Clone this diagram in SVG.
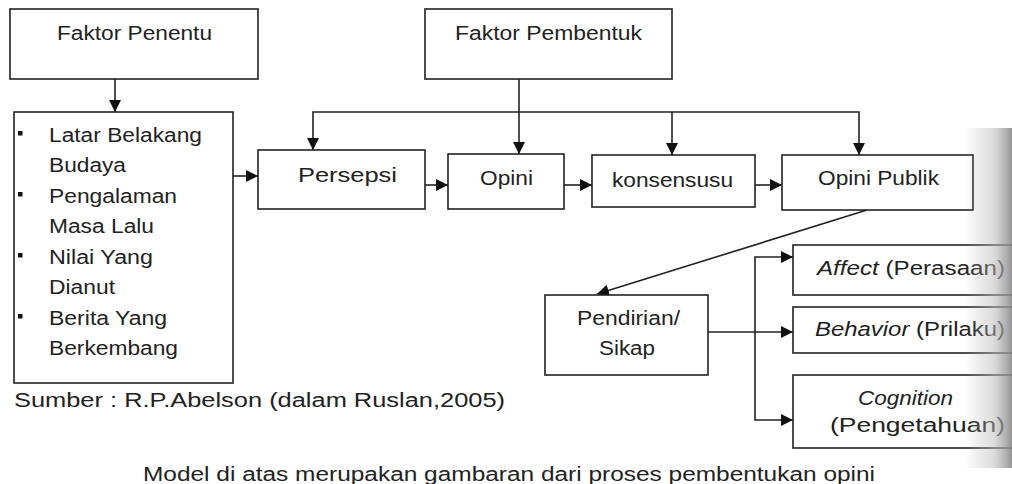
<svg xmlns="http://www.w3.org/2000/svg" width="1012" height="484" viewBox="0 0 1012 484">
<style>
.box{fill:#fff;stroke:#222;stroke-width:1.6}
.t{font-family:"Liberation Sans",Arial,sans-serif;font-size:20px;fill:#222}
.i{font-style:italic}
.c{fill:none;stroke:#222;stroke-width:1.6}
.a{marker-end:url(#ah)}
</style>
<defs>
<marker id="ah" markerUnits="userSpaceOnUse" markerWidth="14" markerHeight="12" refX="12" refY="6" orient="auto">
<path d="M0,0 L12,6 L0,12 Z" fill="#111"/>
</marker>
<linearGradient id="edge" x1="0" y1="0" x2="1" y2="0">
<stop offset="0" stop-color="#aaa" stop-opacity="0"/>
<stop offset="0.6" stop-color="#bbb" stop-opacity="0.5"/>
<stop offset="1" stop-color="#888" stop-opacity="0.9"/>
</linearGradient>
</defs>
<rect width="1012" height="484" fill="#fff"/>

<g id="connectors">
<line class="c a" x1="115" y1="79" x2="115" y2="112"/>
<line class="c a" x1="233" y1="176" x2="258" y2="176"/>
<line class="c a" x1="425" y1="185" x2="448" y2="185"/>
<line class="c a" x1="564" y1="185" x2="592" y2="185"/>
<line class="c a" x1="755" y1="185" x2="782" y2="185"/>
<line class="c a" x1="519" y1="79" x2="519" y2="154"/>
<polyline class="c a" points="519,112 313,112 313,150"/>
<polyline class="c a" points="519,112 859,112 859,155"/>
<line class="c a" x1="672" y1="112" x2="672" y2="155"/>
<line class="c a" x1="867" y1="210" x2="597" y2="294"/>
<line class="c a" x1="708" y1="332" x2="793" y2="332"/>
<polyline class="c a" points="755,332 755,257 793,257"/>
<polyline class="c a" points="755,332 755,420 793,420"/>
</g>

<g id="faktor-penentu">
<rect class="box" x="10" y="9" width="248" height="70"/>
<text class="t" x="57" y="40" textLength="155" lengthAdjust="spacingAndGlyphs">Faktor Penentu</text>
</g>

<g id="faktor-list">
<rect class="box" x="14" y="112" width="219" height="271"/>
<rect x="18" y="131" width="4.5" height="4.5" fill="#111"/>
<rect x="18" y="192" width="4.5" height="4.5" fill="#111"/>
<rect x="18" y="253" width="4.5" height="4.5" fill="#111"/>
<rect x="18" y="314" width="4.5" height="4.5" fill="#111"/>
<text class="t" x="49" y="142" textLength="153" lengthAdjust="spacingAndGlyphs">Latar Belakang</text>
<text class="t" x="49" y="172" textLength="77" lengthAdjust="spacingAndGlyphs">Budaya</text>
<text class="t" x="49" y="203" textLength="128" lengthAdjust="spacingAndGlyphs">Pengalaman</text>
<text class="t" x="49" y="233" textLength="105" lengthAdjust="spacingAndGlyphs">Masa Lalu</text>
<text class="t" x="49" y="264" textLength="104" lengthAdjust="spacingAndGlyphs">Nilai Yang</text>
<text class="t" x="49" y="294" textLength="66" lengthAdjust="spacingAndGlyphs">Dianut</text>
<text class="t" x="49" y="325" textLength="118" lengthAdjust="spacingAndGlyphs">Berita Yang</text>
<text class="t" x="49" y="355" textLength="129" lengthAdjust="spacingAndGlyphs">Berkembang</text>
</g>

<g id="faktor-pembentuk">
<rect class="box" x="425" y="9" width="247" height="70"/>
<text class="t" x="455" y="40" textLength="187" lengthAdjust="spacingAndGlyphs">Faktor Pembentuk</text>
</g>

<g id="persepsi">
<rect class="box" x="258" y="150" width="167" height="59"/>
<text class="t" x="298" y="182" textLength="99" lengthAdjust="spacingAndGlyphs">Persepsi</text>
</g>

<g id="opini">
<rect class="box" x="448" y="154" width="116" height="55"/>
<text class="t" x="480" y="185" textLength="53" lengthAdjust="spacingAndGlyphs">Opini</text>
</g>

<g id="konsensusu">
<rect class="box" x="592" y="155" width="163" height="52"/>
<text class="t" x="612" y="187" textLength="121" lengthAdjust="spacingAndGlyphs">konsensusu</text>
</g>

<g id="opini-publik">
<rect class="box" x="782" y="155" width="191" height="55"/>
<text class="t" x="818" y="185" textLength="121" lengthAdjust="spacingAndGlyphs">Opini Publik</text>
</g>

<g id="pendirian">
<rect class="box" x="545" y="295" width="163" height="80"/>
<text class="t" x="577" y="325" textLength="103" lengthAdjust="spacingAndGlyphs">Pendirian/</text>
<text class="t" x="599" y="355" textLength="56" lengthAdjust="spacingAndGlyphs">Sikap</text>
</g>

<g id="affect">
<rect class="box" x="793" y="245" width="230" height="50"/>
<text class="t" x="817" y="275" textLength="188" lengthAdjust="spacingAndGlyphs"><tspan class="i">Affect</tspan> (Perasaan)</text>
</g>

<g id="behavior">
<rect class="box" x="793" y="307" width="230" height="46"/>
<text class="t" x="815" y="336" textLength="190" lengthAdjust="spacingAndGlyphs"><tspan class="i">Behavior</tspan> (Prilaku)</text>
</g>

<g id="cognition">
<rect class="box" x="793" y="375" width="230" height="73"/>
<text class="t i" x="858" y="405" textLength="95" lengthAdjust="spacingAndGlyphs">Cognition</text>
<text class="t" x="830" y="432" textLength="175" lengthAdjust="spacingAndGlyphs">(Pengetahuan)</text>
</g>

<text class="t" x="14" y="407" textLength="491" lengthAdjust="spacingAndGlyphs">Sumber : R.P.Abelson (dalam Ruslan,2005)</text>
<text class="t" x="143" y="481" textLength="732" lengthAdjust="spacingAndGlyphs">Model di atas merupakan gambaran dari proses pembentukan opini</text>

<rect x="965" y="128" width="47" height="340" fill="url(#edge)"/>
</svg>
